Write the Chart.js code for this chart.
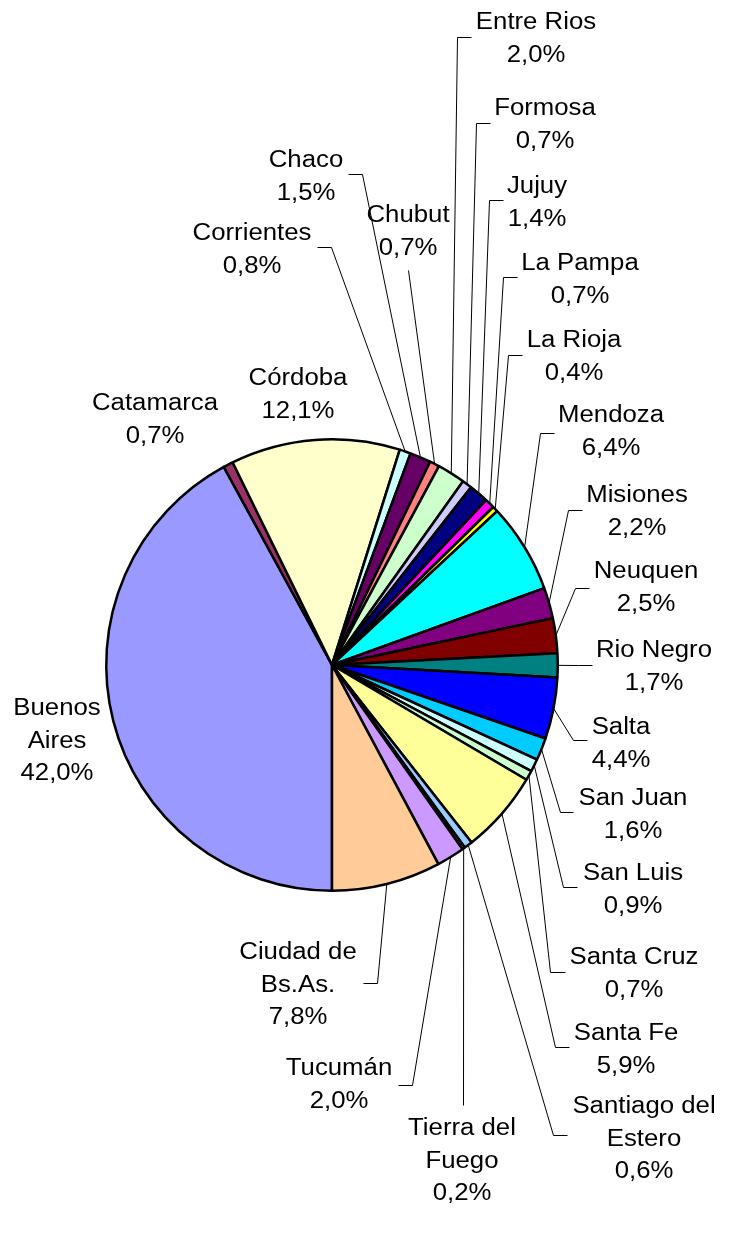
<!DOCTYPE html>
<html>
<head>
<meta charset="utf-8">
<script src="https://cdn.jsdelivr.net/npm/chart.js@4/dist/chart.umd.min.js"></script>
<style>
  html, body { margin: 0; padding: 0; background: #ffffff; }
  #c { display: block; }
</style>
</head>
<body>
<canvas id="c" width="730" height="1234"></canvas>
<script>
// ---- Data ----
const categories = [
  "Buenos Aires", "Catamarca", "Córdoba", "Corrientes", "Chaco", "Chubut",
  "Entre Rios", "Formosa", "Jujuy", "La Pampa", "La Rioja", "Mendoza",
  "Misiones", "Neuquen", "Rio Negro", "Salta", "San Juan", "San Luis",
  "Santa Cruz", "Santa Fe", "Santiago del Estero", "Tierra del Fuego",
  "Tucumán", "Ciudad de Bs.As."
];
const shares = [
  42.0, 0.7, 12.1, 0.8, 1.5, 0.7,
  2.0, 0.7, 1.4, 0.7, 0.4, 6.4,
  2.2, 2.5, 1.7, 4.4, 1.6, 0.9,
  0.7, 5.9, 0.6, 0.2,
  2.0, 7.8
];
// how each category name is broken into label lines
const labelLines = [
  ["Buenos", "Aires"], ["Catamarca"], ["Córdoba"], ["Corrientes"], ["Chaco"], ["Chubut"],
  ["Entre Rios"], ["Formosa"], ["Jujuy"], ["La Pampa"], ["La Rioja"], ["Mendoza"],
  ["Misiones"], ["Neuquen"], ["Rio Negro"], ["Salta"], ["San Juan"], ["San Luis"],
  ["Santa Cruz"], ["Santa Fe"], ["Santiago del", "Estero"], ["Tierra del", "Fuego"],
  ["Tucumán"], ["Ciudad de", "Bs.As."]
];

// ---- Styles ----
const colors = [
  "#9999FF", "#993366", "#FFFFCC", "#CCFFFF", "#660066", "#FF8080",
  "#CCFFCC", "#CCCCFF", "#000080", "#FF00FF", "#FFFF00", "#00FFFF",
  "#800080", "#800000", "#008080", "#0000FF", "#00CCFF", "#CCFFFF",
  "#CCFFCC", "#FFFF99", "#99CCFF", "#FF99CC", "#CC99FF", "#FFCC99"
];

// ---- Label layout: text centre x, first baseline y, leader elbow, stub end ----
const labelLayout = [
  { x: 57,  y: 715,  elbow: null },
  { x: 155, y: 410,  elbow: null },
  { x: 298, y: 385,  elbow: null },
  { x: 252, y: 240,  elbow: [331, 247], stub: [317, 247] },
  { x: 306, y: 167,  elbow: [362, 174], stub: [348, 174] },
  { x: 408, y: 222,  elbow: [408, 270], stub: null },
  { x: 536, y: 29,   elbow: [457, 37],  stub: [471, 37] },
  { x: 545, y: 115,  elbow: [476, 123], stub: [490, 123] },
  { x: 537, y: 193,  elbow: [489, 200], stub: [503, 200] },
  { x: 580, y: 270,  elbow: [503, 277], stub: [517, 277] },
  { x: 574, y: 347,  elbow: [508, 355], stub: [522, 355] },
  { x: 611, y: 422,  elbow: [540, 433], stub: [554, 433] },
  { x: 637, y: 502,  elbow: [568, 510], stub: [582, 510] },
  { x: 646, y: 578,  elbow: [575, 588], stub: [589, 588] },
  { x: 654, y: 657,  elbow: [578, 665], stub: [592, 665] },
  { x: 621, y: 734,  elbow: [573, 740], stub: [587, 740] },
  { x: 633, y: 805,  elbow: [560, 812], stub: [573, 812] },
  { x: 633, y: 880,  elbow: [563, 887], stub: [577, 887] },
  { x: 634, y: 964,  elbow: [550, 972], stub: [565, 972] },
  { x: 626, y: 1040, elbow: [555, 1047], stub: [569, 1047] },
  { x: 644, y: 1113, elbow: [553, 1135], stub: [567, 1135] },
  { x: 462, y: 1135, elbow: [463, 1105], stub: null },
  { x: 339, y: 1075, elbow: [412, 1085], stub: [398, 1085] },
  { x: 298, y: 959,  elbow: [377, 983], stub: [363, 983] }
];

const FONT = '23px "Liberation Sans", Arial, sans-serif';
const LINE_H = 32.5;
const STRETCH = 1.12;

function fmtPct(v) { return v.toFixed(1).replace('.', ',') + '%'; }

const labelPlugin = {
  id: 'excelLabels',
  afterDatasetsDraw(chart) {
    const ctx = chart.ctx;
    const meta = chart.getDatasetMeta(0);
    const vals = chart.data.datasets[0].data;
    ctx.save();
    // leader lines
    ctx.strokeStyle = '#000000';
    ctx.lineWidth = 1;
    meta.data.forEach((arc, i) => {
      const lay = labelLayout[i];
      if (!lay || !lay.elbow) return;
      const p = arc.getProps(['x', 'y', 'startAngle', 'endAngle', 'outerRadius'], true);
      const mid = (p.startAngle + p.endAngle) / 2;
      const ax = p.x + Math.cos(mid) * p.outerRadius;
      const ay = p.y + Math.sin(mid) * p.outerRadius;
      ctx.beginPath();
      ctx.moveTo(ax, ay);
      ctx.lineTo(lay.elbow[0] + 0.5, lay.elbow[1] + 0.5);
      if (lay.stub) ctx.lineTo(lay.stub[0] + 0.5, lay.stub[1] + 0.5);
      ctx.stroke();
    });
    // texts
    ctx.fillStyle = '#000000';
    ctx.font = FONT;
    ctx.textAlign = 'center';
    ctx.textBaseline = 'alphabetic';
    meta.data.forEach((arc, i) => {
      const lay = labelLayout[i];
      const lines = labelLines[i].concat([fmtPct(vals[i])]);
      lines.forEach((t, k) => {
        ctx.save();
        ctx.translate(lay.x, lay.y + k * LINE_H);
        ctx.scale(STRETCH, 1);
        ctx.fillText(t, 0, 0);
        ctx.restore();
      });
    });
    ctx.restore();
  }
};

new Chart(document.getElementById('c'), {
  type: 'pie',
  data: {
    labels: categories,
    datasets: [{
      data: shares,
      backgroundColor: colors,
      borderColor: '#000000',
      borderWidth: 2.5
    }]
  },
  options: {
    responsive: false,
    animation: false,
    rotation: 180,
    layout: { padding: { left: 105, right: 171, top: 438, bottom: 342 } },
    plugins: {
      legend: { display: false },
      tooltip: { enabled: false }
    }
  },
  plugins: [labelPlugin]
});
</script>
</body>
</html>
